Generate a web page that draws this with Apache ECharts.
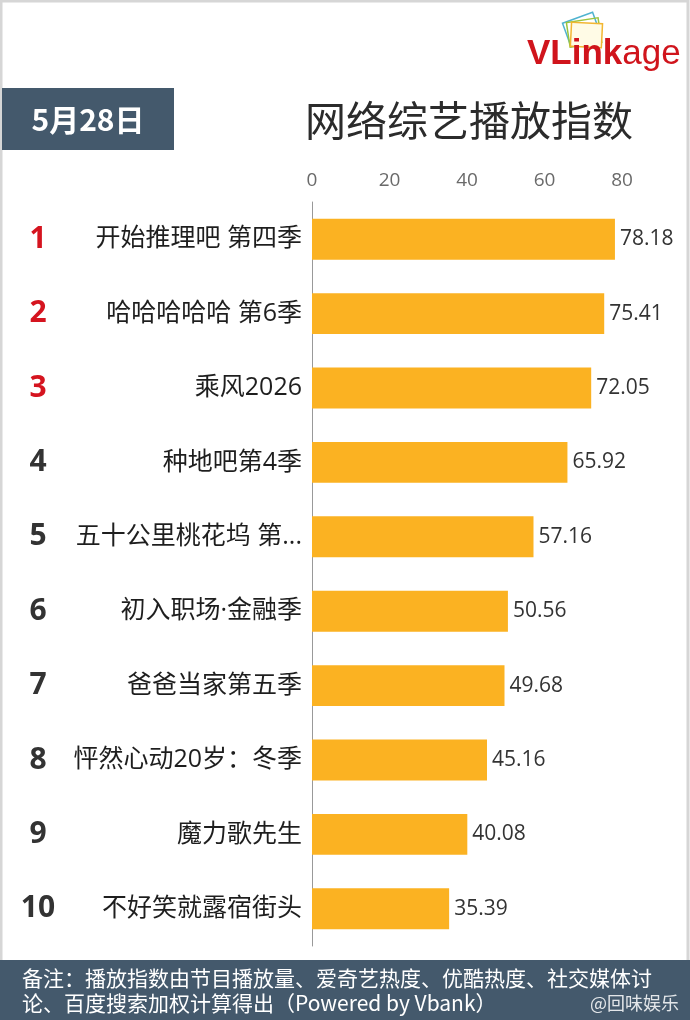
<!DOCTYPE html>
<html>
<head>
<meta charset="utf-8">
<script src="https://cdn.jsdelivr.net/npm/echarts@6/dist/echarts.min.js"></script>
<style>html,body{margin:0;padding:0;background:#fff}#c{width:690px;height:1020px}</style>
</head>
<body>
<div id="c"></div>
<script>
const ranks = ['1','2','3','4','5','6','7','8','9','10'];
const shows = ['开始推理吧 第四季','哈哈哈哈哈 第6季','乘风2026','种地吧第4季','五十公里桃花坞 第...','初入职场·金融季','爸爸当家第五季','怦然心动20岁：冬季','魔力歌先生','不好笑就露宿街头'];
const values = [78.18, 75.41, 72.05, 65.92, 57.16, 50.56, 49.68, 45.16, 40.08, 35.39];
const xTicks = [0, 20, 40, 60, 80];

const FONT = '"Open Sans", "Noto Sans CJK SC", sans-serif';
const CJK = '"Noto Sans CJK SC", "Noto Sans", sans-serif';
const chart = echarts.init(document.getElementById('c'), null, {renderer: 'canvas'});
chart.setOption({
  backgroundColor: '#ffffff',
  animation: false,
  grid: {left: 312, right: 68, top: 202, bottom: 74, containLabel: false},
  xAxis: {
    type: 'value', position: 'top', min: xTicks[0], max: xTicks[xTicks.length - 1], interval: 20,
    axisLine: {show: false}, axisTick: {show: false}, splitLine: {show: false},
    axisLabel: {color: '#6a6a6a', fontSize: 19, fontFamily: FONT, margin: 12}
  },
  yAxis: [
    {
      type: 'category', data: shows, inverse: true,
      axisLine: {show: true, lineStyle: {color: '#999', width: 1}}, axisTick: {show: false},
      axisLabel: {color: '#1e1e1e', fontSize: 25, fontFamily: FONT, margin: 10}
    },
    {
      type: 'category', data: ranks, inverse: true, position: 'left',
      axisLine: {show: false}, axisTick: {show: false},
      axisLabel: {
        margin: 274, align: 'center', fontSize: 30, fontWeight: 'bold', fontFamily: FONT,
        color: function (v, i) { return i < 3 ? '#d5141f' : '#333'; }
      }
    }
  ],
  series: [{
    type: 'bar', data: values, barWidth: '55%', yAxisIndex: 0,
    itemStyle: {color: '#FBB222'},
    label: {show: true, position: 'right', distance: 5, color: '#333', fontSize: 21, fontFamily: FONT,
      formatter: function (p) { return p.value.toFixed(2); }}
  }],
  graphic: [
    {type: 'rect', shape: {x: 1, y: 1, width: 687, height: 1018}, style: {fill: 'none', stroke: '#d6d6d6', lineWidth: 3}, z: 0},
    {type: 'rect', shape: {x: 2, y: 88, width: 172, height: 62}, style: {fill: '#44596C'}},
    {type: 'text', x: 88, y: 120, style: {text: '5月28日', fill: '#fff', font: 'bold 30px ' + CJK, textAlign: 'center', textVerticalAlign: 'middle'}},
    {type: 'text', x: 469, y: 120, style: {text: '网络综艺播放指数', fill: '#2b2b2b', font: '41px ' + CJK, textAlign: 'center', textVerticalAlign: 'middle'}},
    // logo
    {type: 'rect', x: 582, y: 30, rotation: 0.35, shape: {x: -16, y: -13, width: 32, height: 25}, style: {fill: 'none', stroke: '#4fb3d0', lineWidth: 1.5}},
    {type: 'rect', x: 584, y: 32, rotation: 0.15, shape: {x: -16, y: -12, width: 32, height: 25}, style: {fill: 'none', stroke: '#9bc53d', lineWidth: 1.5}},
    {type: 'rect', x: 586, y: 34, rotation: -0.05, shape: {x: -15, y: -11, width: 31, height: 24}, style: {fill: '#fffbe6', stroke: '#f2b632', lineWidth: 1.5}},
    {type: 'text', x: 527, y: 54, style: {rich: {a: {fill: '#d0141c', font: 'bold 35px "Liberation Sans", Arial, sans-serif'}, b: {fill: '#d0141c', font: '35px "Liberation Sans", Arial, sans-serif'}}, text: '{a|VLink}{b|age}', textVerticalAlign: 'middle'}},
    // footer
    {type: 'rect', shape: {x: 0, y: 960, width: 690, height: 60}, style: {fill: '#44596C'}},
    {type: 'text', x: 22, y: 978, style: {text: '备注：播放指数由节目播放量、爱奇艺热度、优酷热度、社交媒体讨', fill: '#fff', font: '21px ' + CJK, textVerticalAlign: 'middle'}},
    {type: 'text', x: 22, y: 1003, style: {text: '论、百度搜索加权计算得出（Powered by Vbank）', fill: '#fff', font: '21px ' + CJK, textVerticalAlign: 'middle'}},
    {type: 'text', x: 590, y: 1003, style: {text: '@回味娱乐', fill: 'rgba(255,255,255,0.85)', font: '18px ' + CJK, textVerticalAlign: 'middle'}}
  ]
});
</script>
</body>
</html>
